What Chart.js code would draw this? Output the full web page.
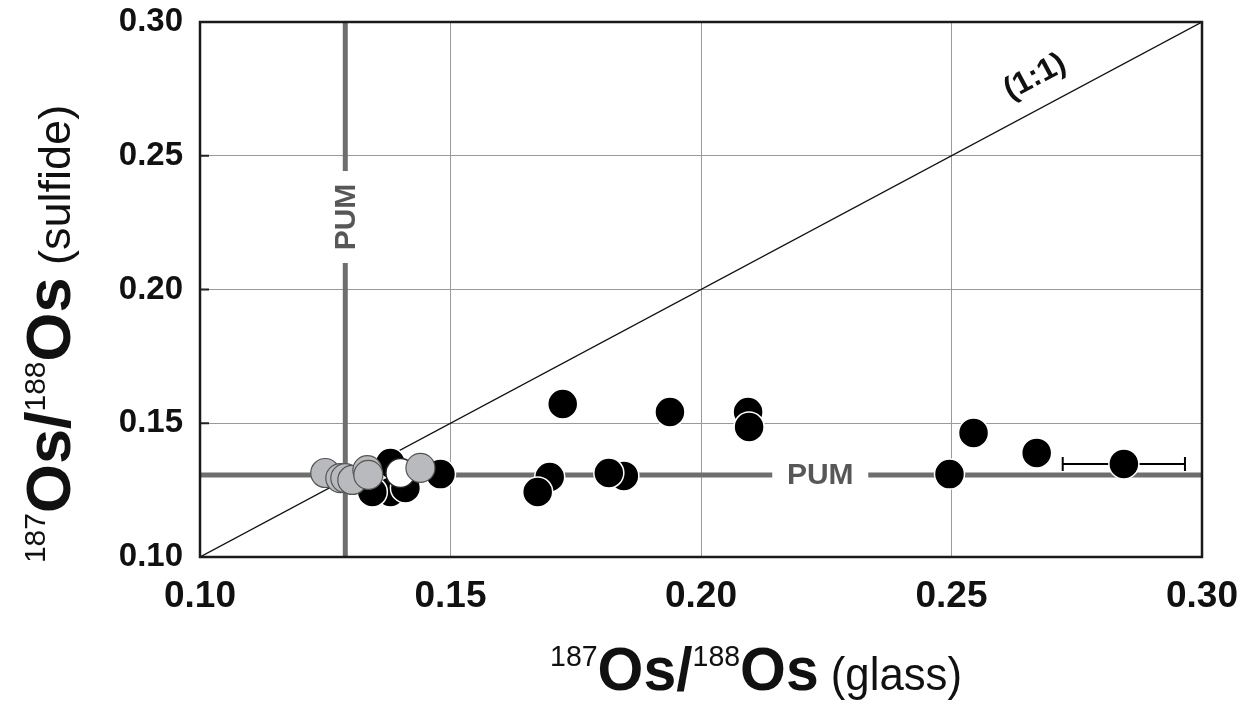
<!DOCTYPE html>
<html>
<head>
<meta charset="utf-8">
<script src="https://cdn.jsdelivr.net/npm/chart.js@4"></script>
<style>
  body { margin: 0; background: #fff; }
  #wrap { width: 1243px; height: 708px; }
</style>
</head>
<body>
<div id="wrap"><canvas id="osChart" width="1243" height="708"></canvas></div>
<script>
// data: 187Os/188Os glass (x) vs sulfide (y)
const blackX = [0.1724, 0.1938, 0.2094, 0.2096, 0.2544, 0.2670, 0.2844, 0.2496, 0.1846, 0.1816, 0.1698, 0.1674, 0.1480, 0.1380, 0.1380, 0.1344, 0.1410];
const blackY = [0.1572, 0.1542, 0.1542, 0.1486, 0.1464, 0.1389, 0.1348, 0.1310, 0.1303, 0.1314, 0.1299, 0.1243, 0.1310, 0.1351, 0.1243, 0.1243, 0.1258];
const whiteX = [0.1400];
const whiteY = [0.1314];
const grayX = [0.1250, 0.1280, 0.1290, 0.1304, 0.1334, 0.1336, 0.1440];
const grayY = [0.1314, 0.1295, 0.1295, 0.1288, 0.1325, 0.1307, 0.1333];

// error bar (x) untuk satu titik
const errPoint = [0.2844, 0.1348];
const errX = 0.0122;

// garis PUM dan 1:1
const pumX = 0.1290;
const pumY = 0.1307;
const oneToOne = [0.10, 0.30];

const tickVals = [0.10, 0.15, 0.20, 0.25, 0.30];

const toPts = (xs, ys) => xs.map((x, i) => ({ x: x, y: ys[i] }));

// plugin: error bar, label, frame, judul sumbu
const extras = {
  id: 'extras',
  beforeDatasetsDraw(chart) {
    const { ctx, scales: { x, y } } = chart;
    ctx.save();
    // error bar di bawah titik
    const px1 = x.getPixelForValue(errPoint[0] - errX);
    const px2 = x.getPixelForValue(errPoint[0] + errX);
    const py = y.getPixelForValue(errPoint[1]);
    ctx.strokeStyle = '#000';
    ctx.lineWidth = 2;
    ctx.beginPath();
    ctx.moveTo(px1, py); ctx.lineTo(px2, py);
    ctx.moveTo(px1, py - 7); ctx.lineTo(px1, py + 7);
    ctx.moveTo(px2, py - 7); ctx.lineTo(px2, py + 7);
    ctx.stroke();
    ctx.restore();
  },
  afterDatasetsDraw(chart) {
    const { ctx, chartArea: a, scales: { x, y } } = chart;
    ctx.save();
    // label PUM dengan latar putih
    ctx.font = 'bold 30px "Liberation Sans", Arial, sans-serif';
    ctx.textAlign = 'center';
    ctx.textBaseline = 'middle';
    const hx = x.getPixelForValue(0.2238), hy = y.getPixelForValue(pumY);
    ctx.fillStyle = '#fff';
    ctx.fillRect(hx - 48, hy - 6, 96, 12);
    ctx.fillStyle = '#575757';
    ctx.fillText('PUM', hx, hy + 1);
    const vx = x.getPixelForValue(pumX), vy = y.getPixelForValue(0.2271);
    ctx.save();
    ctx.translate(vx, vy);
    ctx.rotate(-Math.PI / 2);
    ctx.fillStyle = '#fff';
    ctx.fillRect(-46, -6, 92, 12);
    ctx.fillStyle = '#575757';
    ctx.fillText('PUM', 0, 1);
    ctx.restore();
    // label (1:1)
    const x0 = x.getPixelForValue(0.10), y0 = y.getPixelForValue(0.10);
    const x1 = x.getPixelForValue(0.30), y1 = y.getPixelForValue(0.30);
    const ang = Math.atan2(y1 - y0, x1 - x0);
    const lx = x.getPixelForValue(0.2695), ly = y.getPixelForValue(0.2695);
    ctx.save();
    ctx.translate(lx + Math.sin(ang) * 30, ly - Math.cos(ang) * 30);
    ctx.rotate(ang);
    ctx.fillStyle = '#111';
    ctx.font = 'bold 31px "Liberation Sans", Arial, sans-serif';
    ctx.fillText('(1:1)', 0, 0);
    ctx.restore();
    // tick kecil di sumbu kiri
    ctx.strokeStyle = '#222';
    ctx.lineWidth = 2;
    ctx.beginPath();
    tickVals.forEach(v => {
      const ty = y.getPixelForValue(v);
      ctx.moveTo(a.left, ty); ctx.lineTo(a.left + 9, ty);
    });
    ctx.stroke();
    // bingkai
    ctx.strokeStyle = '#1a1a1a';
    ctx.lineWidth = 2.5;
    ctx.strokeRect(a.left, a.top, a.right - a.left, a.bottom - a.top);
    ctx.restore();
  },
  afterDraw(chart) {
    const ctx = chart.ctx;
    // judul sumbu x
    drawRich(ctx, [
      { t: '187', f: '30px "Liberation Sans", Arial', dy: -24 },
      { t: 'Os/', f: 'bold 62px "Liberation Sans", Arial', dy: 0 },
      { t: '188', f: '30px "Liberation Sans", Arial', dy: -24 },
      { t: 'Os', f: 'bold 62px "Liberation Sans", Arial', dy: 0 },
      { t: ' (glass)', f: '46px "Liberation Sans", Arial', dy: 0 }
    ], 756, 690, 0, 0.95);
    // judul sumbu y
    drawRich(ctx, [
      { t: '187', f: '30px "Liberation Sans", Arial', dy: -25 },
      { t: 'Os/', f: 'bold 63px "Liberation Sans", Arial', dy: 0 },
      { t: '188', f: '30px "Liberation Sans", Arial', dy: -25 },
      { t: 'Os', f: 'bold 63px "Liberation Sans", Arial', dy: 0 },
      { t: ' (sulfide)', f: '45px "Liberation Sans", Arial', dy: 0 }
    ], 70, 334, -Math.PI / 2, 1);
  }
};

function drawRich(ctx, parts, cx, cy, rot, sx) {
  ctx.save();
  ctx.translate(cx, cy);
  ctx.rotate(rot);
  ctx.scale(sx, 1);
  ctx.fillStyle = '#111';
  ctx.textBaseline = 'alphabetic';
  ctx.textAlign = 'left';
  let total = 0;
  parts.forEach(p => { ctx.font = p.f; p.w = ctx.measureText(p.t).width; total += p.w; });
  let pos = -total / 2;
  parts.forEach(p => {
    ctx.font = p.f;
    ctx.fillText(p.t, pos, p.dy);
    pos += p.w;
  });
  ctx.restore();
}

const ctx = document.getElementById('osChart');
new Chart(ctx, {
  type: 'scatter',
  data: {
    datasets: [
      {
        data: toPts(grayX, grayY),
        backgroundColor: '#b9babd',
        borderColor: '#555',
        borderWidth: 1.2,
        pointRadius: 14.5
      },
      {
        data: toPts(whiteX, whiteY),
        backgroundColor: '#fff',
        borderColor: '#222',
        borderWidth: 1.5,
        pointRadius: 14.5
      },
      {
        data: toPts(blackX, blackY),
        backgroundColor: '#000',
        borderColor: '#fff',
        borderWidth: 1.5,
        pointRadius: 15
      },
      {
        data: toPts(oneToOne, oneToOne),
        showLine: true,
        borderColor: '#111',
        borderWidth: 1.3,
        pointRadius: 0
      },
      {
        data: [{ x: pumX, y: 0.10 }, { x: pumX, y: 0.30 }],
        showLine: true,
        borderColor: '#6e6e6e',
        borderWidth: 5,
        pointRadius: 0
      },
      {
        data: [{ x: 0.10, y: pumY }, { x: 0.30, y: pumY }],
        showLine: true,
        borderColor: '#6e6e6e',
        borderWidth: 5,
        pointRadius: 0
      }
    ]
  },
  options: {
    responsive: false,
    animation: false,
    events: [],
    layout: { padding: { top: 22, right: 41, left: 0, bottom: 0 } },
    plugins: { legend: { display: false }, tooltip: { enabled: false } },
    scales: {
      x: {
        type: 'linear',
        min: 0.10,
        max: 0.30,
        afterFit: s => { s.height = 151; s.paddingLeft = 0; s.paddingRight = 0; },
        afterBuildTicks: s => { s.ticks = tickVals.map(v => ({ value: v })); },
        ticks: {
          padding: 18,
          color: '#111',
          font: { family: '"Liberation Sans", Arial', size: 37, weight: 'bold' },
          callback: v => v.toFixed(2)
        },
        grid: { color: '#9a9a9a', lineWidth: 1, drawTicks: false },
        border: { display: false }
      },
      y: {
        type: 'linear',
        min: 0.10,
        max: 0.30,
        afterFit: s => { s.width = 200; s.paddingTop = 0; s.paddingBottom = 0; },
        afterBuildTicks: s => { s.ticks = tickVals.map(v => ({ value: v })); },
        ticks: {
          padding: 17,
          color: '#111',
          font: { family: '"Liberation Sans", Arial', size: 33, weight: 'bold' },
          callback: v => v.toFixed(2)
        },
        grid: { color: '#9a9a9a', lineWidth: 1, drawTicks: false },
        border: { display: false }
      }
    }
  },
  plugins: [extras]
});
</script>
</body>
</html>
